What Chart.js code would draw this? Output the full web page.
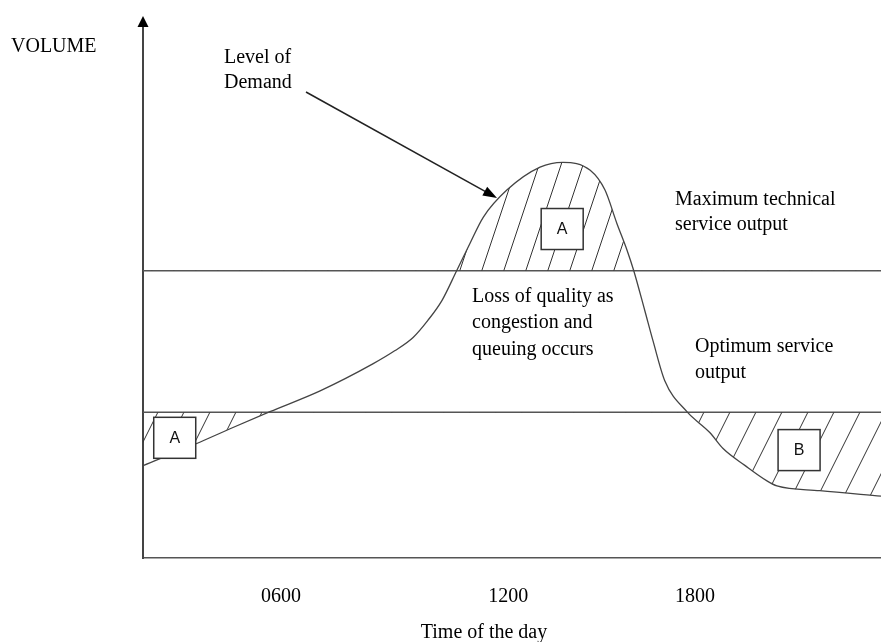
<!DOCTYPE html>
<html>
<head>
<meta charset="utf-8">
<script src="https://cdn.jsdelivr.net/npm/chart.js"></script>
<style>
  body { margin: 0; background: #fff; }
</style>
</head>
<body>
<canvas id="chart" width="881" height="642"></canvas>
<script>
// position along the day axis (0 = left edge, 100 = right edge) and demand volume
const timePos = [0, 7.2, 11.8, 17.2, 24.0, 31.2, 34.1, 36.6, 38.6, 40.5, 42.5, 44.3, 46.1, 49.3, 53.8, 56.9,
                 60.6, 62.6, 64.2, 65.6, 66.5, 68.0, 69.1, 70.7, 73.7, 76.8, 78.6, 81.6, 84.6, 85.9, 91.7, 100];
const demand = [17.3, 21.4, 24.2, 27.4, 31.3, 36.4, 38.8, 41.3, 44.5, 48.2, 53.8, 58.9, 63.8, 68.9, 73.2, 74.1,
                72.6, 68.9, 62.7, 57.6, 53.8, 46.3, 40.7, 33.2, 27.4, 23.5, 20.5, 17.3, 14.4, 13.5, 12.6, 11.6];

const maxOutput = 53.8;
const optimumOutput = 27.3;

const tickPos = [18.7, 49.5, 74.8];
const tickLabels = ["0600", "1200", "1800"];

const boxLabels = ["A", "A", "B"];
const boxX = [4.3, 56.8, 88.9];
const boxY = [22.6, 61.7, 20.3];

const serif = '"Liberation Serif", "Times New Roman", serif';

function hatch(w, h) {
    const c = document.createElement('canvas');
    c.width = w;
    c.height = h;
    const g = c.getContext('2d');
    g.strokeStyle = '#333';
    g.lineWidth = 1;
    for (let k = -1; k <= 1; k++) {
        g.beginPath();
        g.moveTo(k * w - w, 2 * h);
        g.lineTo(k * w + 2 * w, -h);
        g.stroke();
    }
    return g.createPattern(c, 'repeat');
}

const peakHatch = hatch(22, 66);
const lowHatch = hatch(26, 52);

const curve = timePos.map((x, i) => ({ x: x, y: demand[i] }));
const flat = (v) => [{ x: 0, y: v }, { x: 100, y: v }];

const notes = {
    id: 'notes',
    afterDatasetsDraw(chart) {
        const ctx = chart.ctx;
        const xs = chart.scales.x;
        const ys = chart.scales.y;
        ctx.save();

        // boxes
        boxLabels.forEach((t, i) => {
            const cx = xs.getPixelForValue(boxX[i]);
            const cy = ys.getPixelForValue(boxY[i]);
            ctx.fillStyle = '#fff';
            ctx.fillRect(cx - 21, cy - 20, 42, 41);
            ctx.strokeStyle = '#333';
            ctx.lineWidth = 1.5;
            ctx.strokeRect(cx - 21, cy - 20, 42, 41);
            ctx.fillStyle = '#111';
            ctx.font = '16px "Liberation Sans", Arial, sans-serif';
            ctx.textAlign = 'center';
            ctx.textBaseline = 'middle';
            ctx.fillText(t, cx, cy + 1);
        });

        // arrow to the demand curve
        const x0 = 306, y0 = 92, x1 = 497, y1 = 198;
        const a = Math.atan2(y1 - y0, x1 - x0);
        ctx.strokeStyle = '#222';
        ctx.lineWidth = 1.5;
        ctx.beginPath();
        ctx.moveTo(x0, y0);
        ctx.lineTo(x1 - 10 * Math.cos(a), y1 - 10 * Math.sin(a));
        ctx.stroke();
        ctx.fillStyle = '#000';
        ctx.beginPath();
        ctx.moveTo(x1, y1);
        ctx.lineTo(x1 - 14 * Math.cos(a) + 5 * Math.sin(a), y1 - 14 * Math.sin(a) - 5 * Math.cos(a));
        ctx.lineTo(x1 - 14 * Math.cos(a) - 5 * Math.sin(a), y1 - 14 * Math.sin(a) + 5 * Math.cos(a));
        ctx.closePath();
        ctx.fill();

        // arrowhead on the volume axis
        const ax = chart.chartArea.left;
        ctx.beginPath();
        ctx.moveTo(ax, 16);
        ctx.lineTo(ax - 5.5, 27);
        ctx.lineTo(ax + 5.5, 27);
        ctx.closePath();
        ctx.fill();

        // texts
        ctx.fillStyle = '#000';
        ctx.font = '20px ' + serif;
        ctx.textAlign = 'left';
        ctx.textBaseline = 'alphabetic';
        const lines = [
            ["VOLUME", 11, 52],
            ["Level of", 224, 63],
            ["Demand", 224, 88],
            ["Maximum technical", 675, 205],
            ["service output", 675, 230],
            ["Loss of quality as", 472, 302],
            ["congestion and", 472, 328],
            ["queuing occurs", 472, 355],
            ["Optimum service", 695, 352],
            ["output", 695, 378]
        ];
        lines.forEach(([t, x, y]) => ctx.fillText(t, x, y));
        ctx.textAlign = 'center';
        ctx.fillText("Time of the day", 484, 638);
        ctx.restore();
    }
};

new Chart(document.getElementById('chart'), {
    type: 'line',
    data: {
        datasets: [
            {
                label: 'Level of Demand',
                data: curve,
                borderColor: '#444',
                borderWidth: 1.3,
                pointRadius: 0,
                cubicInterpolationMode: 'monotone',
                fill: { target: { value: maxOutput }, above: peakHatch, below: 'rgba(0,0,0,0)' }
            },
            {
                label: 'below optimum',
                data: curve,
                borderWidth: 0,
                borderColor: 'rgba(0,0,0,0)',
                pointRadius: 0,
                cubicInterpolationMode: 'monotone',
                fill: { target: { value: optimumOutput }, above: 'rgba(0,0,0,0)', below: lowHatch }
            },
            {
                label: 'Maximum technical service output',
                data: flat(maxOutput),
                borderColor: '#555',
                borderWidth: 1.5,
                pointRadius: 0,
                fill: false
            },
            {
                label: 'Optimum service output',
                data: flat(optimumOutput),
                borderColor: '#555',
                borderWidth: 1.5,
                pointRadius: 0,
                fill: false
            }
        ]
    },
    options: {
        responsive: false,
        animation: false,
        layout: { padding: { left: 143, right: 0, top: 24, bottom: 6 } },
        plugins: {
            legend: { display: false },
            tooltip: { enabled: false }
        },
        scales: {
            x: {
                type: 'linear',
                min: 0,
                max: 100,
                grid: { display: false, drawTicks: false },
                border: { display: true, color: '#555', width: 1.5 },
                afterBuildTicks: (s) => { s.ticks = tickPos.map((v) => ({ value: v })); },
                ticks: {
                    padding: 27,
                    color: '#000',
                    font: { family: serif, size: 20 },
                    maxRotation: 0,
                    autoSkip: false,
                    callback: (v) => tickLabels[tickPos.indexOf(v)]
                }
            },
            y: {
                min: 0,
                max: 100,
                grid: { display: false, drawTicks: false },
                border: { display: true, color: '#444', width: 2 },
                ticks: { display: false }
            }
        }
    },
    plugins: [notes]
});
</script>
</body>
</html>
